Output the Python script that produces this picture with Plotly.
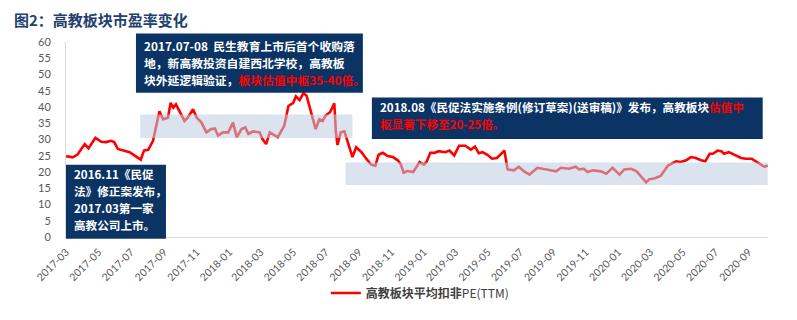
import plotly.graph_objects as go

# ---------------- data ----------------
dates = [
    "2017-03-01", "2017-03-13", "2017-03-22", "2017-04-05", "2017-04-12", "2017-04-25",
    "2017-05-06", "2017-05-15", "2017-05-24", "2017-05-30", "2017-06-06", "2017-06-15",
    "2017-06-28", "2017-07-07", "2017-07-16", "2017-07-19", "2017-07-25", "2017-08-02",
    "2017-08-11", "2017-08-17", "2017-08-23", "2017-08-30", "2017-09-08", "2017-09-13",
    "2017-09-18", "2017-09-23", "2017-09-30", "2017-10-09", "2017-10-15", "2017-10-25",
    "2017-11-01", "2017-11-10", "2017-11-19", "2017-11-28", "2017-12-05", "2017-12-11",
    "2017-12-20", "2017-12-30", "2018-01-08", "2018-01-15", "2018-01-24", "2018-01-31",
    "2018-02-06", "2018-02-15", "2018-02-27", "2018-03-04", "2018-03-11", "2018-03-18",
    "2018-04-02", "2018-04-14", "2018-04-18", "2018-04-22", "2018-05-01", "2018-05-06",
    "2018-05-13", "2018-05-20", "2018-05-26", "2018-06-04", "2018-06-12", "2018-06-19",
    "2018-06-25", "2018-07-01", "2018-07-09", "2018-07-17", "2018-07-20", "2018-07-23",
    "2018-07-29", "2018-08-05", "2018-08-11", "2018-08-20", "2018-08-27", "2018-09-06",
    "2018-09-15", "2018-09-24", "2018-10-02", "2018-10-08", "2018-10-16", "2018-10-25",
    "2018-11-04", "2018-11-13", "2018-11-19", "2018-11-24", "2018-12-01", "2018-12-12",
    "2018-12-24", "2019-01-01", "2019-01-06", "2019-01-13", "2019-01-21", "2019-01-29",
    "2019-02-10", "2019-02-18", "2019-02-27", "2019-03-08", "2019-03-20", "2019-03-30",
    "2019-04-07", "2019-04-14", "2019-04-21", "2019-04-30", "2019-05-09", "2019-05-18",
    "2019-06-01", "2019-06-07", "2019-06-19", "2019-06-28", "2019-07-08", "2019-07-18",
    "2019-08-02", "2019-08-17", "2019-09-06", "2019-09-15", "2019-09-30", "2019-10-13",
    "2019-10-19", "2019-10-28", "2019-11-04", "2019-11-14", "2019-11-29", "2019-12-09",
    "2019-12-21", "2020-01-03", "2020-01-12", "2020-01-25", "2020-02-04", "2020-02-13",
    "2020-02-22", "2020-02-28", "2020-03-08", "2020-03-20", "2020-04-03", "2020-04-18",
    "2020-04-27", "2020-05-07", "2020-05-16", "2020-05-25", "2020-06-04", "2020-06-12",
    "2020-06-20", "2020-06-26", "2020-07-05", "2020-07-13", "2020-07-17", "2020-07-26",
    "2020-08-09", "2020-08-18", "2020-08-27", "2020-09-07", "2020-09-16", "2020-10-01",
    "2020-10-07",
]
pe_values = [
    24.9, 24.5, 25.3, 28.6, 27.3, 30.5,
    29.3, 29.2, 29.6, 29.2, 27.1, 26.6,
    26.1, 25.1, 24.1, 23.8, 26.6, 26.8,
    29.6, 34.2, 38.7, 36.2, 36.7, 41.3,
    39.8, 40.8, 38.7, 35.7, 36.7, 39.3,
    36.7, 35.2, 32.2, 33.2, 33.4, 31.2,
    32.2, 32.2, 35.2, 30.7, 33.2, 33.7,
    31.7, 32.5, 32.2, 30.2, 28.6, 32.2,
    30.7, 34.2, 37.2, 40.3, 41.3, 43.3,
    42.1, 44.3, 43.5, 38.3, 33.2, 36.2,
    35.7, 37.4, 38.4, 41.1, 32.2, 28.3,
    32.2, 32.5, 29.6, 24.6, 27.6, 26.1,
    24.1, 22.3, 21.9, 25.3, 25.9, 24.9,
    24.6, 23.6, 22.3, 19.8, 20.3, 20.0,
    23.1, 22.3, 23.1, 25.9, 25.9, 26.4,
    26.1, 26.6, 25.1, 28.1, 28.1, 26.9,
    27.8, 25.8, 26.1, 25.3, 24.1, 24.3,
    26.6, 20.8, 20.5, 21.6, 20.2, 19.2,
    21.3, 20.8, 20.2, 21.3, 21.0, 21.6,
    20.8, 21.0, 20.0, 20.5, 20.2, 19.5,
    21.3, 19.2, 20.8, 21.0, 20.2, 18.5,
    16.8, 17.8, 18.0, 18.8, 22.0, 23.3,
    23.1, 23.6, 24.6, 24.3, 23.6, 23.3,
    25.6, 25.6, 26.6, 26.3, 25.6, 26.1,
    24.9, 24.3, 24.1, 24.1, 23.1, 21.6,
    22.0,
]
series_name = "<b>高教板块平均扣非</b>PE(TTM)"

# valuation-centre bands (period, PE range)
band1_period = ["2017-07-18", "2018-08-20"]
band1_range = [30.5, 37.7]
band2_period = ["2018-08-07", "2020-10-07"]
band2_range = [16.0, 22.9]

title_text = "图2：高教板块市盈率变化"
RED = "<span style='color:#ff0000'>{}</span>"
box1_lines = [
    "2017.07-08  民生教育上市后首个收购落",
    "地，新高教投资自建西北学校，高教板",
    "块外延逻辑验证，" + RED.format("板块估值中枢35-40倍。"),
]
box2_lines = [
    "2018.08《民促法实施条例(修订草案)(送审稿)》发布，高教板块" + RED.format("估值中"),
    RED.format("枢显著下移至20-25倍。"),
]
box3_lines = [
    "2016.11《民促",
    "法》修正案发布，",
    "2017.03第一家",
    "高教公司上市。",
]

# ---------------- layout helpers ----------------
W, H = 797, 320
L, R, T, B = 66, 768.3, 41.7, 239.3


def px(x):
    return (x - L) / (R - L)


def py(y):
    return (B - y) / (B - T)


NAVY = "#0b3464"
CJK = "Noto Sans CJK SC"

fig = go.Figure()
fig.add_trace(go.Scatter(
    x=dates, y=pe_values, mode="lines", name=series_name,
    line=dict(color="#ff0000", width=2.6),
))

shapes = []
for per, rng in [(band1_period, band1_range), (band2_period, band2_range)]:
    shapes.append(dict(type="rect", xref="x", yref="y", x0=per[0], x1=per[1],
                       y0=rng[0], y1=rng[1], layer="above", line=dict(width=0),
                       fillcolor="rgba(187,204,224,0.55)"))

# (left, top, right, bottom, first line centre, line step, lines, font size)
boxes = [
    (136, 33, 363, 93, 44.8, 17.3, box1_lines, 11.8),
    (372, 98, 763, 140, 107.5, 17.8, box2_lines, 11.6),
    (66, 166, 166, 241, 175.5, 17.3, box3_lines, 11.6),
]
annotations = []
for (x0, y0, x1, y1, c0, step, lines, fs) in boxes:
    shapes.append(dict(type="rect", xref="paper", yref="paper",
                       x0=px(x0), x1=px(x1), y0=py(y1), y1=py(y0),
                       layer="above", line=dict(width=0), fillcolor=NAVY))
    for i, ln in enumerate(lines):
        annotations.append(dict(xref="paper", yref="paper", x=px(x0 + 6),
                                y=py(c0 + i * step),
                                xanchor="left", yanchor="middle", align="left",
                                showarrow=False, text="<b>" + ln + "</b>",
                                font=dict(family=CJK, size=fs, color="white")))

annotations.append(dict(xref="paper", yref="paper", x=px(12), y=py(18.5),
                        xanchor="left", yanchor="middle", showarrow=False,
                        text="<b>" + title_text + "</b>",
                        font=dict(family=CJK, size=15, color="#23406f")))

fig.update_layout(
    width=W, height=H,
    margin=dict(l=L, r=W - R, t=T, b=H - B, pad=0),
    paper_bgcolor="white", plot_bgcolor="white",
    showlegend=True,
    legend=dict(orientation="h", x=px(420), xanchor="center",
                y=py(296), yanchor="middle",
                font=dict(family=CJK, size=12, color="#404040"),
                bgcolor="rgba(0,0,0,0)", itemwidth=30),
    shapes=shapes, annotations=annotations,
    font=dict(family=CJK),
)
fig.update_xaxes(
    type="date", range=["2017-02-28 18:00", "2020-10-07 12:00"],
    tick0="2017-03-01", dtick="M2", tickformat="%Y-%m", tickangle=-45,
    showgrid=False, zeroline=False, showline=True, linecolor="#d9d9d9", linewidth=1,
    ticks="", ticklabelstandoff=4,
    tickfont=dict(family="Lato", size=10.5, color="#595959"),
)
fig.update_yaxes(
    range=[0, 60], dtick=5, tick0=0, showgrid=False, zeroline=False,
    showline=True, linecolor="#d9d9d9", linewidth=1, ticks="",
    ticklabelstandoff=12,
    tickfont=dict(family="Lato", size=11, color="#595959"),
)

fig.write_html("out.html")
